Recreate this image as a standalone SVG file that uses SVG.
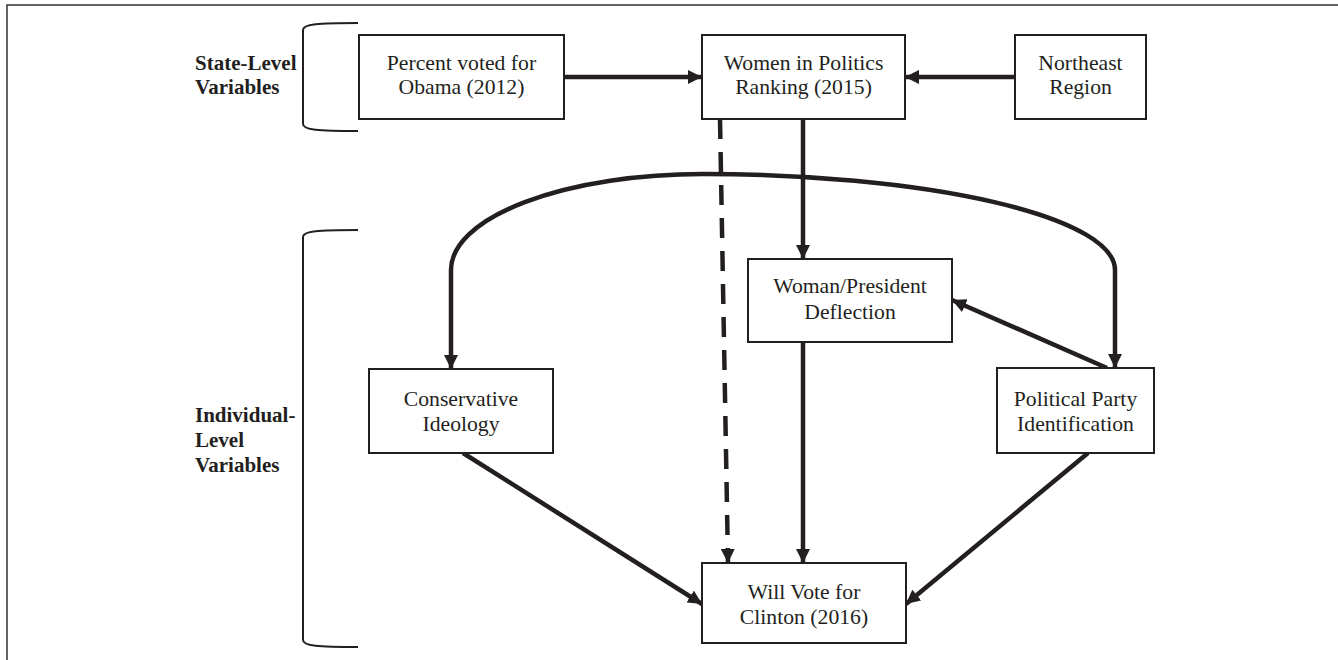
<svg xmlns="http://www.w3.org/2000/svg" width="1338" height="660" viewBox="0 0 1338 660">
<style>
.box{fill:#fff;stroke:#231f20;stroke-width:2}
.t{font-family:"Liberation Serif","Times New Roman",serif;font-size:21.7px;fill:#231f20;text-anchor:middle}
.lbl{font-family:"Liberation Serif","Times New Roman",serif;font-size:21px;font-weight:bold;fill:#231f20}
.c{fill:none;stroke:#231f20;stroke-width:4.5}
.br{fill:none;stroke:#231f20;stroke-width:2}
</style>
<defs>
<marker id="ah" markerUnits="userSpaceOnUse" viewBox="0 0 14 14" markerWidth="14" markerHeight="14" refX="14" refY="7" orient="auto-start-reverse">
<path d="M0,0 L14,7 L0,14 z" fill="#231f20"/>
</marker>
</defs>
<rect width="1338" height="660" fill="#fff"/>
<g id="frame">
<path d="M7,660 L7,5 L1338,5" fill="none" stroke="#333" stroke-width="1.5"/>
</g>
<g id="labels">
<path class="br" d="M358,23 C318,23 303,24 303,30 L303,124 C303,130 318,131 358,131"/>
<text class="lbl" x="195" y="70">State-Level</text>
<text class="lbl" x="195" y="94">Variables</text>
<path class="br" d="M358,230 C318,230 303,231 303,237 L303,640 C303,646 318,647 358,647"/>
<text class="lbl" x="195" y="422">Individual-</text>
<text class="lbl" x="195" y="447">Level</text>
<text class="lbl" x="195" y="472">Variables</text>
</g>
<g id="connectors">
<path class="c" d="M564,77 L702,77" marker-end="url(#ah)"/>
<path class="c" d="M1015,77 L905,77" marker-end="url(#ah)"/>
<path class="c" d="M803,119 L803,259" marker-end="url(#ah)"/>
<path class="c" d="M720,119 L728,563" stroke-dasharray="20 13" marker-end="url(#ah)"/>
<path class="c" d="M803,342 L803,563" marker-end="url(#ah)"/>
<path class="c" d="M451,369 L451,270 A252,96 0 0 1 703,174 A412,96 0 0 1 1115,270 L1115,368" marker-start="url(#ah)" marker-end="url(#ah)"/>
<path class="c" d="M1107,368 L952,300" marker-end="url(#ah)"/>
<path class="c" d="M463,453 L702,604" marker-end="url(#ah)"/>
<path class="c" d="M1088,453 L906,604" marker-end="url(#ah)"/>
</g>
<g id="n_obama">
<rect class="box" x="359" y="35" width="205" height="84"/>
<text class="t" x="461.5" y="70">Percent voted for</text>
<text class="t" x="461.5" y="94">Obama (2012)</text>
</g>
<g id="n_women">
<rect class="box" x="702" y="35" width="203" height="84"/>
<text class="t" x="803.5" y="70">Women in Politics</text>
<text class="t" x="803.5" y="94">Ranking (2015)</text>
</g>
<g id="n_northeast">
<rect class="box" x="1015" y="35" width="131" height="84"/>
<text class="t" x="1080.5" y="70">Northeast</text>
<text class="t" x="1080.5" y="94">Region</text>
</g>
<g id="n_deflection">
<rect class="box" x="748" y="259" width="204" height="83"/>
<text class="t" x="850" y="293">Woman/President</text>
<text class="t" x="850" y="319">Deflection</text>
</g>
<g id="n_conservative">
<rect class="box" x="369" y="369" width="184" height="84"/>
<text class="t" x="461" y="406">Conservative</text>
<text class="t" x="461" y="431">Ideology</text>
</g>
<g id="n_party">
<rect class="box" x="997" y="368" width="157" height="85"/>
<text class="t" x="1075.5" y="406">Political Party</text>
<text class="t" x="1075.5" y="431">Identification</text>
</g>
<g id="n_clinton">
<rect class="box" x="702" y="563" width="204" height="80"/>
<text class="t" x="804" y="599">Will Vote for</text>
<text class="t" x="804" y="624">Clinton (2016)</text>
</g>
</svg>
